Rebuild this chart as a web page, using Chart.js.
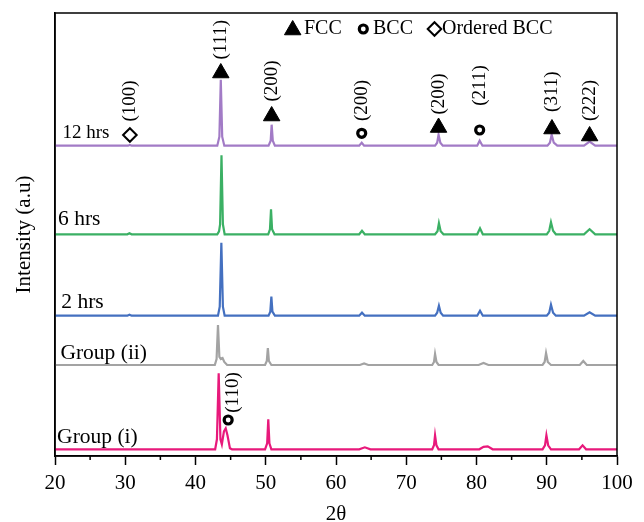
<!DOCTYPE html>
<html>
<head>
<meta charset="utf-8">
<script src="https://cdn.jsdelivr.net/npm/chart.js@4.4.1/dist/chart.umd.min.js"></script>
<style>
  html, body { margin: 0; padding: 0; background: #fff; }
</style>
</head>
<body>
<canvas id="xrd" width="644" height="522"></canvas>
<script>
// 2θ range and tick step
const xMin = 20;
const xMax = 100;
const tickStep = 5;

// sample names, colours and vertical offsets of each pattern (a.u.)
const sampleNames = ["12 hrs", "6 hrs", "2 hrs", "Group (ii)", "Group (i)"];
const sampleColors = ["#a27bc6", "#3bb064", "#4470c0", "#a3a3a3", "#e8197b"];
const sampleOffsets = [310.3, 221.7, 140.3, 91, 6.7];

// patterns as [2θ, intensity above own baseline]
const hrs12 = [
  [20, 0], [30.4, 0], [30.65, 0.8], [30.9, 0],
  [43.1, 0], [43.4, 9], [43.6, 66], [43.8, 9], [44.1, 0],
  [50.4, 0], [50.7, 5], [50.84, 21], [51.0, 5], [51.3, 0],
  [63.3, 0], [63.66, 3], [64.0, 0],
  [74.1, 0], [74.4, 3], [74.6, 11], [74.85, 3], [75.2, 0],
  [80.1, 0], [80.45, 5], [80.85, 0],
  [90.1, 0], [90.45, 3], [90.7, 11], [91.0, 3], [91.5, 0],
  [95.3, 0], [96.1, 4], [96.9, 0], [100, 0]
];
const hrs6 = [
  [20, 0], [30.3, 0], [30.6, 1], [30.9, 0],
  [43.1, 0], [43.35, 3], [43.5, 10], [43.7, 79], [43.9, 10], [44.15, 0],
  [50.35, 0], [50.6, 5], [50.75, 25], [50.9, 5], [51.25, 0],
  [63.3, 0], [63.7, 3.5], [64.1, 0],
  [74.1, 0], [74.45, 3], [74.65, 11], [74.9, 3], [75.3, 0],
  [80.1, 0], [80.5, 6], [80.9, 0],
  [90.0, 0], [90.35, 3.5], [90.6, 12], [90.9, 3.5], [91.3, 0],
  [95.3, 0], [96.1, 5], [96.9, 0], [100, 0]
];
const hrs2 = [
  [20, 0], [30.3, 0], [30.6, 1], [30.9, 0],
  [43.2, 0], [43.45, 9], [43.68, 73], [43.9, 9], [44.15, 0],
  [50.4, 0], [50.65, 4], [50.8, 19], [50.95, 4], [51.3, 0],
  [63.3, 0], [63.7, 3], [64.1, 0],
  [74.1, 0], [74.4, 3], [74.65, 10], [74.9, 3], [75.25, 0],
  [80.1, 0], [80.5, 5], [80.9, 0],
  [90.0, 0], [90.35, 3], [90.6, 11], [90.9, 3], [91.3, 0],
  [95.3, 0], [96.1, 3.5], [96.9, 0], [100, 0]
];
const groupII = [
  [20, 0], [42.75, 0], [43.0, 6], [43.2, 40], [43.4, 8], [43.6, 6], [43.85, 7], [44.1, 3], [44.5, 0],
  [49.9, 0], [50.15, 4], [50.3, 17], [50.45, 4], [50.8, 0],
  [63.4, 0], [64.0, 1.5], [64.6, 0],
  [73.7, 0], [73.95, 3], [74.1, 11], [74.3, 3], [74.6, 0],
  [80.3, 0], [81.0, 2], [81.7, 0],
  [89.4, 0], [89.7, 3], [89.9, 12], [90.15, 3], [90.6, 0],
  [94.7, 0], [95.2, 4], [95.7, 0], [100, 0]
];
const groupI = [
  [20, 0], [42.8, 0], [43.05, 10], [43.3, 76], [43.55, 10], [43.75, 5], [44.05, 18], [44.3, 21], [44.55, 14], [44.9, 1], [45.2, 0],
  [49.9, 0], [50.2, 6], [50.36, 30], [50.52, 6], [50.8, 0],
  [63.3, 0], [64.1, 2], [64.9, 0],
  [73.7, 0], [73.95, 4], [74.1, 14], [74.3, 4], [74.6, 0],
  [80.4, 0], [81.0, 2.5], [81.6, 3], [82.3, 0],
  [89.4, 0], [89.75, 4], [89.95, 14], [90.2, 4], [90.6, 0],
  [94.6, 0], [95.1, 4], [95.6, 0], [100, 0]
];
const patterns = [hrs12, hrs6, hrs2, groupII, groupI];

// phase markers [2θ, height]
const fccMarks = [[43.6, 383], [50.84, 340], [74.6, 328.5], [90.74, 327], [96.1, 320]];
const bccMarks = [[63.66, 322.7], [80.45, 326], [44.65, 36]];
const orderedMarks = [[30.66, 321]];

// reflection labels [text, 2θ, height]
const hklLabels = [
  ["(100)", 30.66, 355], ["(111)", 43.6, 416.3], ["(200)", 50.84, 375],
  ["(200)", 63.66, 355.5], ["(200)", 74.6, 362], ["(211)", 80.5, 370.5],
  ["(311)", 90.74, 364.3], ["(222)", 96.1, 355.5], ["(110)", 45.3, 63.5]
];

// sample name anchors [2θ, height, font px]
const namePos = [[21.05, 323, 19], [20.43, 237, 21.5], [20.9, 154, 21.5], [20.77, 103, 21.5], [20.3, 19, 21.5]];

const serif = '"Liberation Serif", "Times New Roman", serif';

const datasets = patterns.map((pts, i) => ({
  label: sampleNames[i],
  data: pts.map(([t, v]) => ({ x: t, y: v + sampleOffsets[i] })),
  borderColor: sampleColors[i],
  borderWidth: 2.2,
  pointRadius: 0,
  tension: 0,
  order: 2
}));

const markerStyle = (pts, style, fill, radius, bw) => ({
  data: pts.map(([t, v]) => ({ x: t, y: v })),
  showLine: false,
  pointStyle: style,
  pointRadius: radius,
  pointBackgroundColor: fill,
  pointBorderColor: "#000",
  pointBorderWidth: bw,
  order: 1
});
datasets.push(markerStyle(fccMarks, "triangle", "#000", 9.5, 1));
datasets.push(markerStyle(bccMarks, "circle", "#fff", 4, 3.2));
datasets.push(markerStyle(orderedMarks, "rectRot", "#fff", 6.8, 2));

// frame, minor ticks, labels and the phase key
const overlay = {
  id: "overlay",
  afterDraw(chart) {
    const { ctx, chartArea: a, scales: { x, y } } = chart;
    ctx.save();
    ctx.strokeStyle = "#000";
    ctx.lineWidth = 1.5;
    ctx.strokeRect(a.left, a.top, a.right - a.left, a.bottom - a.top);

    ctx.beginPath();
    for (let v = xMin + tickStep; v < xMax; v += 2 * tickStep) {
      const px = x.getPixelForValue(v);
      ctx.moveTo(px, a.bottom);
      ctx.lineTo(px, a.bottom + 4);
    }
    ctx.stroke();

    ctx.fillStyle = "#000";
    ctx.textAlign = "center";
    ctx.textBaseline = "middle";
    ctx.font = "19px " + serif;
    hklLabels.forEach(([t, px, py]) => {
      ctx.save();
      ctx.translate(x.getPixelForValue(px), y.getPixelForValue(py));
      ctx.rotate(-Math.PI / 2);
      ctx.fillText(t, 0, 0);
      ctx.restore();
    });

    ctx.textAlign = "left";
    sampleNames.forEach((name, i) => {
      const [px, py, fs] = namePos[i];
      ctx.font = fs + "px " + serif;
      ctx.fillText(name, x.getPixelForValue(px), y.getPixelForValue(py));
    });

    // key
    const key = [
      ["triangle", "#000", 9.5, 1, 292.7, 30, "FCC", 304],
      ["circle", "#fff", 4, 3.2, 363.3, 29, "BCC", 373],
      ["rectRot", "#fff", 6.8, 2, 434.5, 29, "Ordered BCC", 442]
    ];
    ctx.font = "20px " + serif;
    key.forEach(([style, fill, r, bw, sx, sy, text, tx]) => {
      ctx.fillStyle = fill;
      ctx.strokeStyle = "#000";
      ctx.lineWidth = bw;
      Chart.helpers.drawPoint(ctx, { pointStyle: style, radius: r, borderWidth: bw, rotation: 0 }, sx, sy);
      ctx.fillStyle = "#000";
      ctx.fillText(text, tx, 29);
    });
    ctx.restore();
  }
};

new Chart(document.getElementById("xrd"), {
  type: "line",
  data: { datasets },
  options: {
    responsive: false,
    devicePixelRatio: 1,
    animation: false,
    layout: { padding: { top: 13, right: 27, bottom: 0, left: 0 } },
    plugins: { legend: { display: false }, tooltip: { enabled: false } },
    scales: {
      x: {
        type: "linear",
        min: xMin,
        max: xMax,
        afterFit: (s) => { s.height = 66; },
        border: { color: "#000", width: 1.5 },
        grid: {
          drawOnChartArea: false,
          drawTicks: true,
          tickLength: 9,
          tickWidth: 1.5,
          tickColor: (c) => (c.tick && c.tick.value % 10 === 0 ? "#000" : "rgba(0,0,0,0)")
        },
        ticks: {
          stepSize: tickStep,
          autoSkip: false,
          maxRotation: 0,
          padding: 6,
          color: "#000",
          font: { family: serif, size: 21 },
          callback: (v) => (v % 10 === 0 ? v : "")
        },
        title: {
          display: true,
          text: "2θ",
          color: "#000",
          font: { family: serif, size: 21, lineHeight: 0.75 },
          padding: 0
        }
      },
      y: {
        min: 0,
        max: 443,
        afterFit: (s) => { s.width = 55; },
        border: { color: "#000", width: 1.5 },
        grid: { display: false },
        ticks: { display: false },
        title: {
          display: true,
          text: "Intensity (a.u)",
          color: "#000",
          font: { family: serif, size: 21 },
          padding: { top: 12, bottom: 0 }
        }
      }
    }
  },
  plugins: [overlay]
});
</script>
</body>
</html>
